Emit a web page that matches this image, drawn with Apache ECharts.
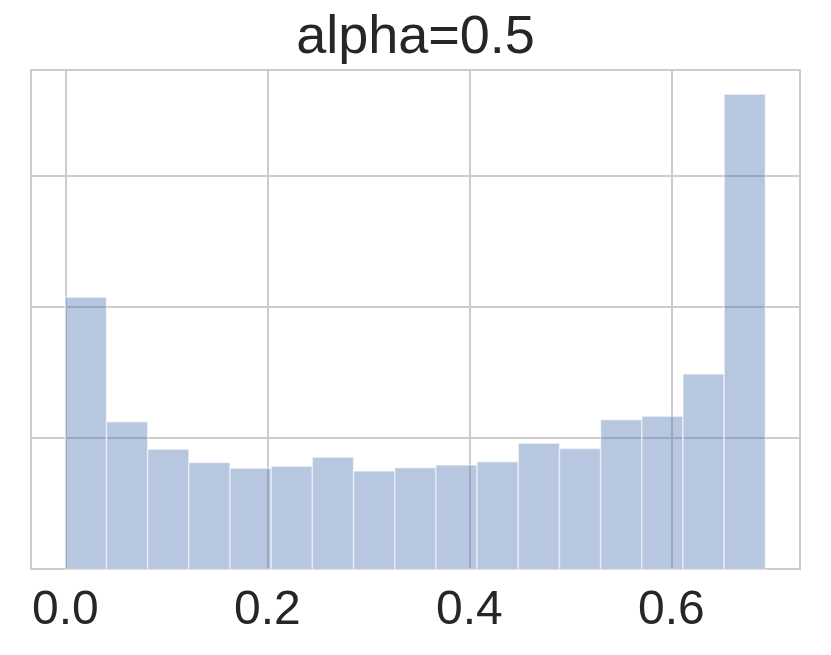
<!DOCTYPE html>
<html>
<head>
<meta charset="utf-8">
<script src="https://cdn.jsdelivr.net/npm/echarts@6/dist/echarts.min.js"></script>
<style>
  html, body { margin: 0; padding: 0; background: #fff; }
  #histModel { width: 831px; height: 655px; }
</style>
</head>
<body>
<div id="histModel"></div>
<script>
// histogram bins: 17 equal bins from 0 to ln(2)
const binStart = 0
const binEnd = 0.6931
const binCount = 17
// bar heights (density)
const densities = [2.074, 1.125, 0.914, 0.814, 0.769, 0.784, 0.853, 0.748, 0.773,
  0.794, 0.819, 0.960, 0.921, 1.140, 1.166, 1.489, 3.624]
const xTicks = [0, 0.2, 0.4, 0.6]
const titleText = 'alpha=0.5'

const binWidth = (binEnd - binStart) / binCount
const histData = densities.map((d, i) => [binStart + i * binWidth, binStart + (i + 1) * binWidth, d])

/**
 * 直方图
 */
const handleHistModel = () => {
  let histModel = echarts.init(document.getElementById('histModel'))
  histModel.setOption({
    animation: false,
    title: {
      text: titleText,
      left: 'center',
      top: 6,
      textStyle: {
        fontFamily: 'Liberation Sans, Arial, sans-serif',
        fontSize: 54,
        fontWeight: 'normal',
        color: '#262626'
      }
    },
    grid: {
      left: 31,
      right: 31,
      top: 70,
      bottom: 86,
      show: true,
      borderColor: '#cccccc',
      borderWidth: 2
    },
    xAxis: {
      type: 'value',
      min: -0.034,
      max: 0.7274,
      axisLine: { show: false },
      axisTick: { show: false, customValues: xTicks },
      axisLabel: {
        customValues: xTicks,
        formatter: (v) => v.toFixed(1),
        fontFamily: 'Liberation Sans, Arial, sans-serif',
        fontSize: 48,
        color: '#262626',
        margin: 18
      },
      splitLine: { show: true, lineStyle: { color: '#cccccc', width: 2 } }
    },
    yAxis: {
      type: 'value',
      min: 0,
      max: 3.81,
      interval: 1,
      axisLine: { show: false },
      axisTick: { show: false },
      axisLabel: { show: false },
      splitLine: { show: true, lineStyle: { color: '#cccccc', width: 2 } }
    },
    series: [
      {
        type: 'custom',
        data: histData,
        renderItem: (params, api) => {
          const p0 = api.coord([api.value(0), api.value(2)])
          const p1 = api.coord([api.value(1), 0])
          return {
            type: 'rect',
            shape: { x: p0[0], y: p0[1], width: p1[0] - p0[0], height: p1[1] - p0[1] },
            style: {
              fill: 'rgba(76, 114, 176, 0.4)',
              stroke: 'rgba(255, 255, 255, 0.5)',
              lineWidth: 1.5
            }
          }
        }
      }
    ]
  })
}
handleHistModel()
</script>
</body>
</html>
